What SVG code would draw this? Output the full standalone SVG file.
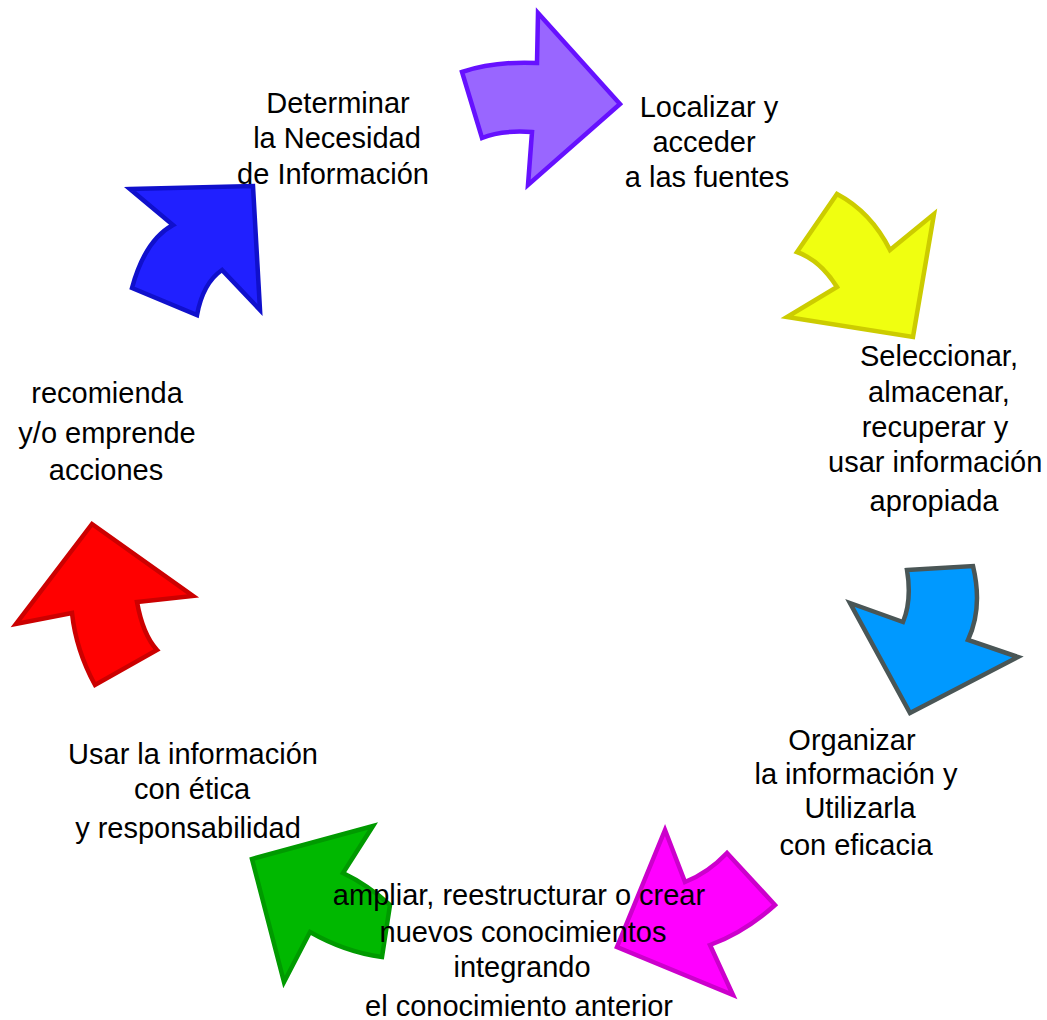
<svg xmlns="http://www.w3.org/2000/svg" width="1047" height="1020" viewBox="0 0 1047 1020">
<style>
.a{stroke-width:4.5;stroke-linejoin:miter}
text{font-family:"Liberation Sans",Arial,sans-serif;font-size:29px;fill:#000;text-anchor:middle}
</style>
<rect width="1047" height="1020" fill="#fff"/>
<g id="arrows">
<g id="arrow-purple"><path class="a" fill="#9966ff" stroke="#6611ff" d="M462,72 Q495,61 537,63 L538,13 L620,104 L528,185 L532,132 Q500,130 482,138 Z"/></g>
<g id="arrow-yellow"><path class="a" fill="#f0ff10" stroke="#cccc00" d="M837,194 Q871,212 890,250 L934,214 L913,337 L787,317 L837,287 Q820,260 797,252 Z"/></g>
<g id="arrow-cyan"><path class="a" fill="#0099ff" stroke="#4a5656" d="M907,570 L973,566 Q983,608 968,640 L1018,657 L910,713 L850,603 L903,622 Q912,600 907,570 Z"/></g>
<g id="arrow-magenta"><path class="a" fill="#ff00ff" stroke="#cc00cc" d="M665,830 L685,882 Q708,873 727,853 L775,905 Q745,932 710,945 L733,995 L617,947 Z"/></g>
<g id="arrow-green"><path class="a" fill="#00b800" stroke="#009a00" d="M373,826 L343,873 Q368,885 390,905 L382,957 Q345,952 310,932 L284,982 L252,859 Z"/></g>
<g id="arrow-red"><path class="a" fill="#ff0000" stroke="#cc0000" d="M92,524 L193,596 L137,602 Q143,635 157,650 L95,685 Q76,650 72,613 L16,624 Z"/></g>
<g id="arrow-blue"><path class="a" fill="#2020ff" stroke="#1010cc" d="M130,189 L253,186 L260,310 L222,270 Q203,283 197,315 L132,288 Q145,240 173,225 Z"/></g>
</g>
<g id="node-determinar">
<text x="338" y="113">Determinar</text>
<text x="337" y="148">la Necesidad</text>
<text x="333" y="184">de Información</text>
</g>
<g id="node-localizar">
<text x="709" y="117">Localizar y</text>
<text x="704" y="152">acceder</text>
<text x="707" y="187">a las fuentes</text>
</g>
<g id="node-seleccionar">
<text x="939" y="366">Seleccionar,</text>
<text x="939" y="402">almacenar,</text>
<text x="935" y="437">recuperar y</text>
<text x="828" y="472" style="text-anchor:start">usar información</text>
<text x="934" y="511">apropiada</text>
</g>
<g id="node-organizar">
<text x="852" y="750">Organizar</text>
<text x="856" y="784">la información y</text>
<text x="860" y="818">Utilizarla</text>
<text x="856" y="855">con eficacia</text>
</g>
<g id="node-ampliar">
<text x="519" y="905">ampliar, reestructurar o crear</text>
<text x="523" y="942">nuevos conocimientos</text>
<text x="522" y="977">integrando</text>
<text x="519" y="1016">el conocimiento anterior</text>
</g>
<g id="node-usar">
<text x="193" y="764">Usar la información</text>
<text x="192" y="799">con ética</text>
<text x="188" y="838">y responsabilidad</text>
</g>
<g id="node-recomienda">
<text x="107" y="403">recomienda</text>
<text x="107" y="443">y/o emprende</text>
<text x="106" y="480">acciones</text>
</g>
</svg>
